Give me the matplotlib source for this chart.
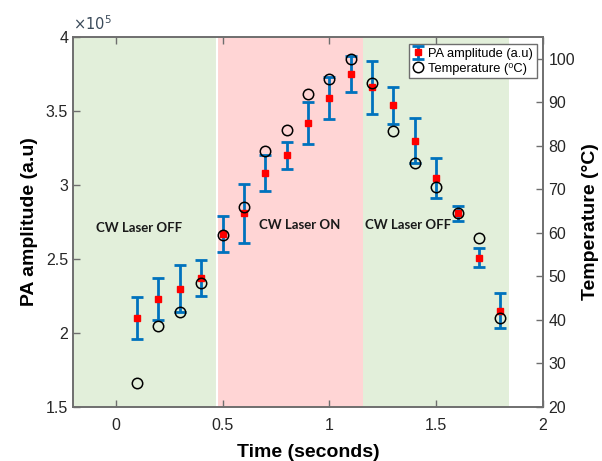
import numpy as np
import matplotlib
matplotlib.use("Agg")
import matplotlib.pyplot as plt

plt.rcParams['font.family'] = ['Liberation Sans', 'DejaVu Sans']

# time points (seconds)
time_s = [0.1, 0.2, 0.3, 0.4, 0.5, 0.6, 0.7, 0.8, 0.9,
          1.0, 1.1, 1.2, 1.3, 1.4, 1.5, 1.6, 1.7, 1.8]
# PA amplitude in units of 1e5
pa_amp = [2.10, 2.23, 2.30, 2.37, 2.67, 2.81, 3.08, 3.20, 3.42,
          3.59, 3.75, 3.66, 3.54, 3.30, 3.05, 2.81, 2.51, 2.15]
pa_err = [0.143, 0.143, 0.16, 0.123, 0.123, 0.20, 0.123, 0.09, 0.142,
          0.143, 0.12, 0.178, 0.125, 0.15, 0.135, 0.05, 0.063, 0.118]
# temperature (deg C)
temp_c = [25.6, 38.6, 41.8, 48.4, 59.5, 65.9, 78.9, 83.6, 91.8,
          95.4, 99.9, 94.4, 83.5, 76.0, 70.6, 64.5, 58.8, 40.4]

# laser state regions: (start, end, label)
regions = [(-0.2, 0.472, 'CW Laser OFF'),
           (0.472, 1.156, 'CW Laser ON'),
           (1.156, 1.842, 'CW Laser OFF')]
region_colors = ['#e2efda', '#ffd5d5', '#e2efda']
label_pos = [(0.11, 2.71), (0.86, 2.73), (1.37, 2.73)]

grey = '#6e6e6e'
txt = '#262626'

fig = plt.figure(figsize=(6.02, 4.61), dpi=100)
ax = fig.add_axes([73/602, 1 - 407/461, 470/602, 370/461])
ax2 = ax.twinx()

for (x0, x1, lab), c, (tx, ty) in zip(regions, region_colors, label_pos):
    ax.axvspan(x0, x1, color=c, lw=0, zorder=0)
    ax.text(tx, ty, lab, ha='center', va='center', fontsize=9.5,
            fontweight='bold', family=['Lato', 'DejaVu Sans'], color='#1a1a1a', zorder=1)
ax.axvline(0.472, color='white', lw=1.5, zorder=0.5)

eb = ax.errorbar(time_s, pa_amp, yerr=pa_err, fmt='s', color='#0072BD',
                 ecolor='#0072BD', elinewidth=2, capsize=4, capthick=2,
                 markerfacecolor='red', markeredgecolor='red', markersize=5, zorder=3)
circ, = ax2.plot(time_s, temp_c, 'o', mfc='none', mec='black', mew=1.1,
                 markersize=7.5, zorder=4)

ax.set_xlim(-0.2, 2)
ax.set_ylim(1.5, 4)
ax2.set_ylim(20, 105)
ax.set_xticks([0, 0.5, 1, 1.5, 2])
ax.set_xticklabels(['0', '0.5', '1', '1.5', '2'])
ax.set_yticks([1.5, 2, 2.5, 3, 3.5, 4])
ax.set_yticklabels(['1.5', '2', '2.5', '3', '3.5', '4'])
ax2.set_yticks([20, 30, 40, 50, 60, 70, 80, 90, 100])

for a in (ax, ax2):
    for s in a.spines.values():
        s.set_color(grey)
        s.set_linewidth(1.2)
    a.tick_params(direction='in', length=5, width=1, color=grey,
                  labelsize=11.5, labelcolor=txt)
ax.tick_params(axis='x', top=True, pad=8)
ax.tick_params(axis='y', right=False)
ax2.tick_params(axis='y', pad=4)

ax.text(0.0, 1.012, r'$\times 10^5$', transform=ax.transAxes, fontsize=10.5,
        color='#3a4a5a', ha='left', va='bottom')

ax.set_xlabel('Time (seconds)', fontsize=14, fontweight='bold', labelpad=8)
ax.set_ylabel('PA amplitude (a.u)', fontsize=14, fontweight='bold', labelpad=6)
ax2.set_ylabel('Temperature (\u00b0C)', fontsize=14, fontweight='bold', labelpad=5)

leg = ax2.legend([eb, circ], ['PA amplitude (a.u)', 'Temperature (\u2070C)'],
                 loc='upper right', bbox_to_anchor=(0.987, 0.981), fontsize=9.3,
                 frameon=True, fancybox=False, edgecolor=grey, framealpha=1,
                 handlelength=0.8, handletextpad=0.4, borderpad=0.3,
                 labelspacing=0.2, borderaxespad=0)
leg.get_frame().set_linewidth(1.0)

fig.savefig('out.png', dpi=100)
